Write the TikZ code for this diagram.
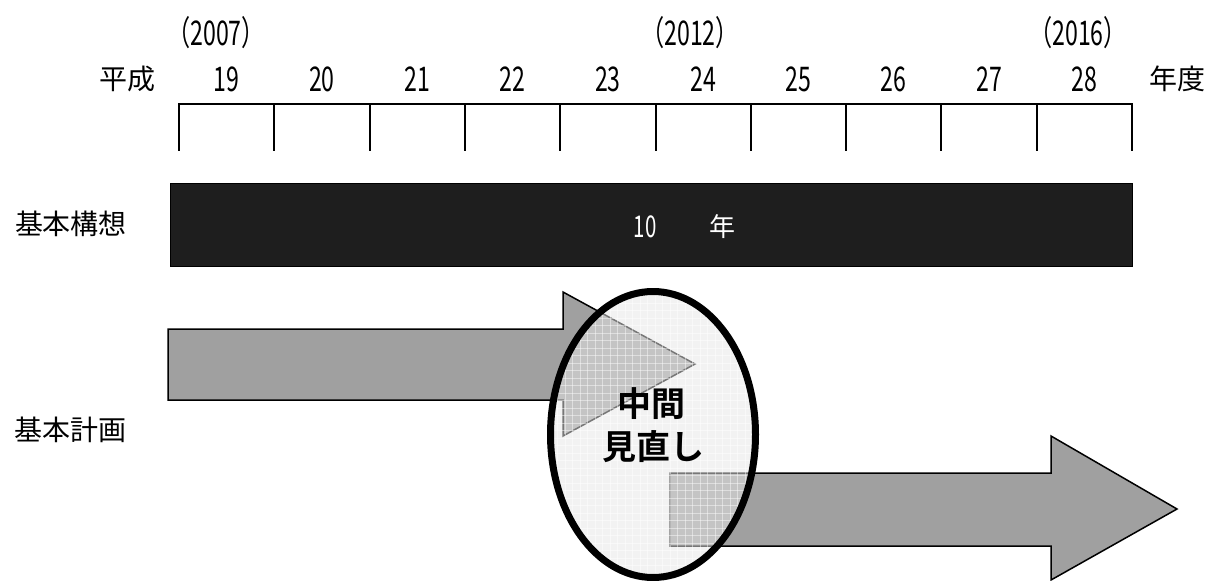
\documentclass[tikz,border=0pt]{standalone}
\usepackage{fontspec}
\setmainfont{Noto Sans CJK JP}
\newfontfamily\jpfont[BoldFont={Noto Sans CJK JP Bold}]{Noto Sans CJK JP}
\newfontfamily\numfont[FakeStretch=0.68]{Noto Sans CJK JP}
\definecolor{arrowgray}{RGB}{160,160,160}
\definecolor{barblack}{RGB}{30,30,30}
\definecolor{ellfill}{RGB}{230,230,230}
\tikzset{
  lbl/.style={font=\jpfont\fontsize{28}{30}\selectfont, inner sep=0pt},
  num/.style={font=\numfont\fontsize{34}{36}\selectfont, inner sep=0pt},
  axisline/.style={line width=2pt, line cap=rect},
  bigarrow/.style={fill=arrowgray, draw=black, line width=1.5pt, line join=miter},
  bartext/.style={text=white, inner sep=0pt},
  gridline/.style={white, line width=0.8pt, opacity=0.45},
  bold/.style={font=\jpfont\bfseries\fontsize{34}{36}\selectfont, inner sep=0pt}
}
\begin{document}
\begin{tikzpicture}[x=1pt, y=-1pt]
\useasboundingbox (0,0) rectangle (1213,581);
% header labels
\node[lbl] (heisei) at (127,79) {平成};
\node[lbl] (nendo) at (1177,79) {年度};
\foreach \n [count=\i from 0] in {19,...,28}
  \node[num] (y\n) at ({179+95.3*(\i+0.5)},79) {\n};
\node[num] (p2007) at (216,33) {（2007）};
\node[num] (p2012) at (690,33) {（2012）};
\node[num] (p2016) at (1078,33) {（2016）};
% timeline
\draw[axisline] (179,104) -- (1132,104);
\foreach \i in {0,...,10}
  \draw[axisline] ({179+95.3*\i},104) -- ({179+95.3*\i},150);
% row labels
\node[lbl] (kousou) at (71,224) {基本構想};
\node[lbl] (keikaku) at (70,430) {基本計画};
% black bar
\node[draw=black, fill=barblack, line width=1pt, minimum width=962pt, minimum height=83pt, anchor=north west, inner sep=0pt] (bar) at (170,183) {};
\node[num, bartext, font=\numfont\fontsize{30}{32}\selectfont] (ten) at (645,227) {10};
\node[lbl, bartext, font=\jpfont\fontsize{26}{28}\selectfont] (nen) at (722,227) {年};
% arrows
\draw[bigarrow] (168,329) -- (563,329) -- (563,292) -- (695,364) -- (563,436) -- (563,400) -- (168,400) -- cycle;
\draw[bigarrow] (670,473) -- (1051,473) -- (1051,436) -- (1177,509) -- (1051,580) -- (1051,546) -- (670,546) -- cycle;
% review ellipse
\fill[ellfill, opacity=0.52] (653,434.5) ellipse [x radius=102.5, y radius=143];
\begin{scope}
  \clip (653,434.5) ellipse [x radius=102.5, y radius=143];
  \foreach \gx in {550,557.5,...,760} \draw[gridline] (\gx,288) -- (\gx,582);
  \foreach \gy in {288,295.5,...,582} \draw[gridline] (547,\gy) -- (760,\gy);
\end{scope}
\draw[line width=7pt] (653,434.5) ellipse [x radius=102.5, y radius=143];
\node[bold] (chukan) at (651,404) {中間};
\node[bold] (minaoshi) at (653,447) {見直し};
\end{tikzpicture}
\end{document}
